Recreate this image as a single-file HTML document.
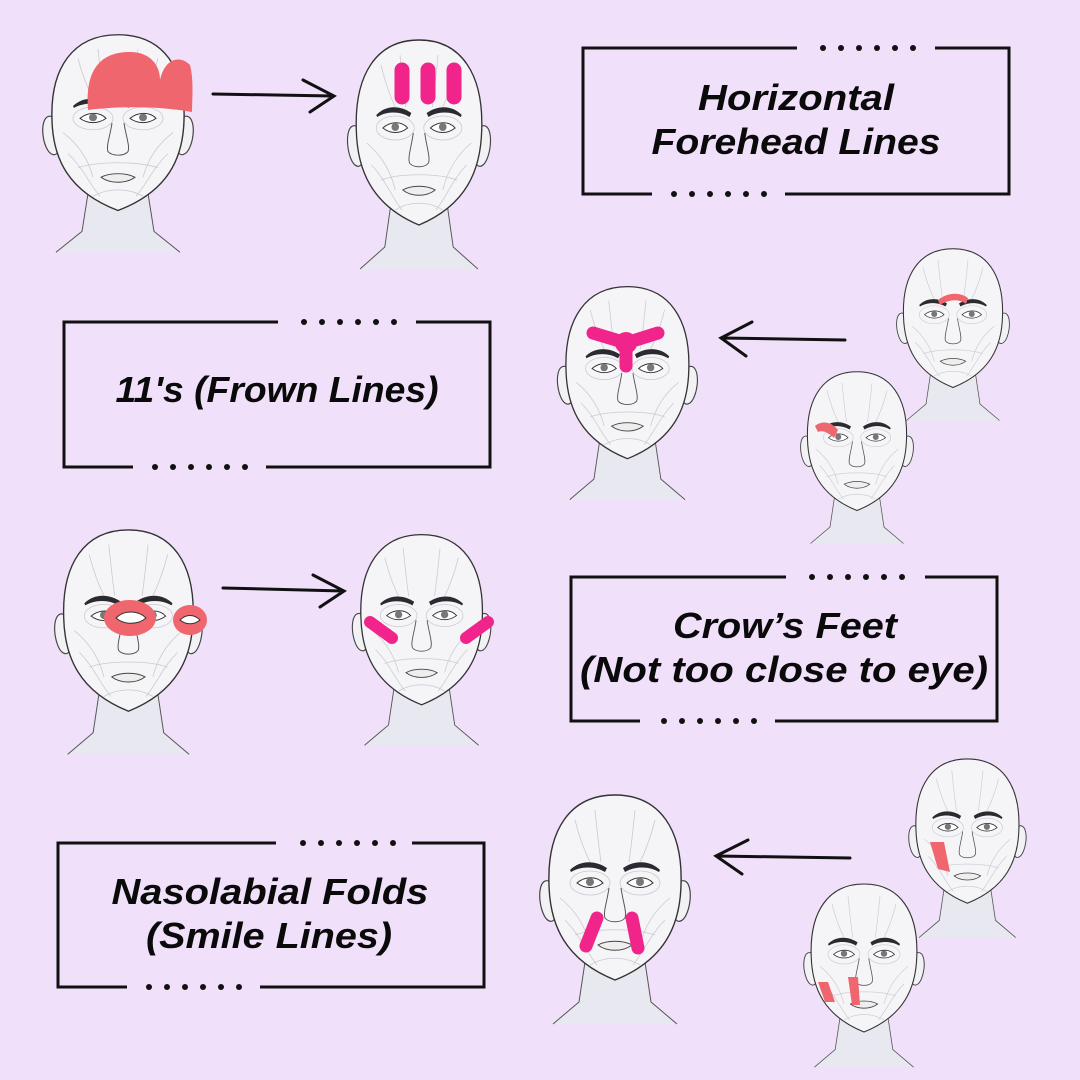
<!DOCTYPE html>
<html><head><meta charset="utf-8"><style>
html,body{margin:0;padding:0;background:#f0e0fa;}
svg{display:block}
text{font-family:"Liberation Sans",sans-serif;font-weight:bold;font-style:italic;font-size:36px;fill:#0a0a0a;text-anchor:middle}
</style></head><body>
<svg width="1080" height="1080" viewBox="0 0 1080 1080" xmlns="http://www.w3.org/2000/svg">
<defs>
<symbol id="face" viewBox="0 0 160 230" overflow="visible">
  <path d="M50,172 L44,212 L18,234 L142,234 L116,212 L110,172Z" fill="#e8e8f0"/>
  <path d="M50,172 L44,212 L18,234 M110,172 L116,212 L142,234" stroke="#555" stroke-width="1" fill="none"/>
  <path d="M16,92 C4,85 2,108 8,123 C12,133 18,133 20,128Z" fill="#f2f2f5" stroke="#444" stroke-width="1.2"/>
  <path d="M144,92 C156,85 158,108 152,123 C148,133 142,133 140,128Z" fill="#f2f2f5" stroke="#444" stroke-width="1.2"/>
  <path d="M80,5 C125,5 148,40 146,95 C145,135 130,170 80,190 C30,170 15,135 14,95 C12,40 35,5 80,5Z" fill="#f5f5f8" stroke="#333" stroke-width="1.4"/>
  <g stroke="#c9c9d0" stroke-width="0.8" fill="none">
    <path d="M40,30 C45,50 50,62 55,72 M60,20 C62,40 64,58 66,72 M100,20 C98,40 96,58 94,72 M120,30 C115,50 110,62 105,72"/>
    <path d="M25,108 C40,120 50,135 55,155 M135,108 C120,120 110,135 105,155 M30,130 C45,145 50,160 62,175 M130,130 C115,145 110,160 98,175"/>
    <path d="M40,145 C60,138 100,138 120,145 M55,175 C70,166 90,166 105,175"/>
    <ellipse cx="55" cy="93" rx="20" ry="12"/><ellipse cx="105" cy="93" rx="20" ry="12"/>
  </g>
  <path d="M35,80 C45,70 60,70 72,78 L70,82 C60,76 46,76 36,82Z" fill="#2a2a30"/>
  <path d="M125,80 C115,70 100,70 88,78 L90,82 C100,76 114,76 124,82Z" fill="#2a2a30"/>
  <path d="M42,93 C50,86 62,86 68,93 C60,99 50,99 42,93Z" fill="#fff" stroke="#333" stroke-width="1"/>
  <path d="M92,93 C100,86 112,86 118,93 C110,99 100,99 92,93Z" fill="#fff" stroke="#333" stroke-width="1"/>
  <circle cx="55" cy="92" r="4" fill="#777"/><circle cx="105" cy="92" r="4" fill="#777"/>
  <path d="M74,98 C72,112 68,122 70,128 C74,133 86,133 90,128 C92,122 88,112 86,98" fill="none" stroke="#555" stroke-width="1"/>
  <path d="M63,155 C72,150 88,150 97,155 C88,162 72,162 63,155Z" fill="#eee" stroke="#444" stroke-width="1"/>
</symbol>
</defs>

<!-- Row 1 -->
<use href="#face" transform="translate(38,30) scale(1,0.95)" width="160" height="230"/>
<path d="M88,110 C85,70 100,52 130,52 C150,52 160,65 160,80 C165,58 180,55 190,65 C194,80 192,100 192,112 C160,106 120,106 88,110Z" fill="#f0666e"/>
<path d="M213,94 L333,96 M303,80 L334,96 L310,112" stroke="#111" stroke-width="3" fill="none" stroke-linecap="round"/>
<use href="#face" transform="translate(343,35) scale(0.95,1.0)" width="160" height="230"/>
<g stroke="#f0248a" stroke-width="15" stroke-linecap="round">
<path d="M402,70 L402,97 M428,70 L428,97 M454,70 L454,97"/>
</g>

<g stroke="#111" stroke-width="3" fill="none">
<path d="M797,48 L583,48 L583,194 L652,194 M785,194 L1009,194 L1009,48 L935,48"/>
</g>
<g fill="#111"><circle cx="823" cy="48" r="3"/><circle cx="841" cy="48" r="3"/><circle cx="859" cy="48" r="3"/><circle cx="877" cy="48" r="3"/><circle cx="895" cy="48" r="3"/><circle cx="913" cy="48" r="3"/>
<circle cx="674" cy="194" r="3"/><circle cx="692" cy="194" r="3"/><circle cx="710" cy="194" r="3"/><circle cx="728" cy="194" r="3"/><circle cx="746" cy="194" r="3"/><circle cx="764" cy="194" r="3"/></g>
<text x="796" y="110" textLength="196" lengthAdjust="spacingAndGlyphs">Horizontal</text>
<text x="796" y="154" textLength="289" lengthAdjust="spacingAndGlyphs">Forehead Lines</text>

<!-- Row 2 -->
<g stroke="#111" stroke-width="3" fill="none">
<path d="M278,322 L64,322 L64,467 L133,467 M266,467 L490,467 L490,322 L416,322"/>
</g>
<g fill="#111"><circle cx="304" cy="322" r="3"/><circle cx="322" cy="322" r="3"/><circle cx="340" cy="322" r="3"/><circle cx="358" cy="322" r="3"/><circle cx="376" cy="322" r="3"/><circle cx="394" cy="322" r="3"/>
<circle cx="155" cy="467" r="3"/><circle cx="173" cy="467" r="3"/><circle cx="191" cy="467" r="3"/><circle cx="209" cy="467" r="3"/><circle cx="227" cy="467" r="3"/><circle cx="245" cy="467" r="3"/></g>
<text x="277" y="402" textLength="323" lengthAdjust="spacingAndGlyphs">11's (Frown Lines)</text>
<use href="#face" transform="translate(553,282) scale(0.93)" width="160" height="230"/>
<g stroke="#f0248a" stroke-width="13" stroke-linecap="round" fill="none">
<path d="M593,333 L626,343 L658,333 M626,343 L626,366"/>
</g>
<circle cx="626" cy="343" r="11" fill="#f0248a"/>
<path d="M845,340 L722,338 M752,322 L721,338 L746,356" stroke="#111" stroke-width="3" fill="none" stroke-linecap="round"/>
<use href="#face" transform="translate(893,245) scale(0.75)" width="160" height="230"/>
<path d="M938,300 C948,292 960,292 968,298 L966,304 C958,298 948,300 940,305Z" fill="#f0666e"/>
<use href="#face" transform="translate(797,368) scale(0.75)" width="160" height="230"/>
<path d="M815,426 C822,420 832,422 838,430 L834,438 C828,432 822,430 818,432Z" fill="#f0666e"/>

<!-- Row 3 -->
<use href="#face" transform="translate(50,525) scale(0.98)" width="160" height="230"/>
<ellipse cx="130" cy="618" rx="26" ry="18" fill="#f0666e"/>
<ellipse cx="190" cy="620" rx="17" ry="15" fill="#f0666e"/>
<path d="M116,618 C124,610 138,610 146,618 C138,625 124,625 116,618Z" fill="#fff" stroke="#333"/>
<path d="M180,620 C186,614 194,614 200,620 C194,625 186,625 180,620Z" fill="#fff" stroke="#333"/>
<path d="M223,588 L343,591 M313,575 L344,591 L320,607" stroke="#111" stroke-width="3" fill="none" stroke-linecap="round"/>
<use href="#face" transform="translate(348,530) scale(0.92)" width="160" height="230"/>
<g stroke="#f0248a" stroke-width="12" stroke-linecap="round">
<path d="M370,622 L392,638 M488,622 L466,638"/>
</g>
<g stroke="#111" stroke-width="3" fill="none">
<path d="M786,577 L571,577 L571,721 L640,721 M775,721 L997,721 L997,577 L925,577"/>
</g>
<g fill="#111"><circle cx="812" cy="577" r="3"/><circle cx="830" cy="577" r="3"/><circle cx="848" cy="577" r="3"/><circle cx="866" cy="577" r="3"/><circle cx="884" cy="577" r="3"/><circle cx="902" cy="577" r="3"/>
<circle cx="664" cy="721" r="3"/><circle cx="682" cy="721" r="3"/><circle cx="700" cy="721" r="3"/><circle cx="718" cy="721" r="3"/><circle cx="736" cy="721" r="3"/><circle cx="754" cy="721" r="3"/></g>
<text x="785" y="638" textLength="224" lengthAdjust="spacingAndGlyphs">Crow’s Feet</text>
<text x="784" y="682" textLength="408" lengthAdjust="spacingAndGlyphs">(Not too close to eye)</text>

<!-- Row 4 -->
<g stroke="#111" stroke-width="3" fill="none">
<path d="M276,843 L58,843 L58,987 L127,987 M260,987 L484,987 L484,843 L412,843"/>
</g>
<g fill="#111"><circle cx="303" cy="843" r="3"/><circle cx="321" cy="843" r="3"/><circle cx="339" cy="843" r="3"/><circle cx="357" cy="843" r="3"/><circle cx="375" cy="843" r="3"/><circle cx="393" cy="843" r="3"/>
<circle cx="149" cy="987" r="3"/><circle cx="167" cy="987" r="3"/><circle cx="185" cy="987" r="3"/><circle cx="203" cy="987" r="3"/><circle cx="221" cy="987" r="3"/><circle cx="239" cy="987" r="3"/></g>
<text x="270" y="904" textLength="317" lengthAdjust="spacingAndGlyphs">Nasolabial Folds</text>
<text x="269" y="948" textLength="246" lengthAdjust="spacingAndGlyphs">(Smile Lines)</text>
<use href="#face" transform="translate(535,790) scale(1.0)" width="160" height="230"/>
<g stroke="#f0248a" stroke-width="13" stroke-linecap="round">
<path d="M597,918 L586,946 M632,918 L638,948"/>
</g>
<path d="M850,858 L717,856 M748,840 L716,856 L742,874" stroke="#111" stroke-width="3" fill="none" stroke-linecap="round"/>
<use href="#face" transform="translate(905,755) scale(0.78)" width="160" height="230"/>
<path d="M930,842 L944,842 L950,872 L938,869Z" fill="#f0666e"/>
<use href="#face" transform="translate(800,880) scale(0.8)" width="160" height="230"/>
<path d="M818,982 L828,982 L835,1002 L825,1002Z M848,977 L858,977 L860,1005 L852,1005Z" fill="#f0666e"/>
</svg>
</body></html>
